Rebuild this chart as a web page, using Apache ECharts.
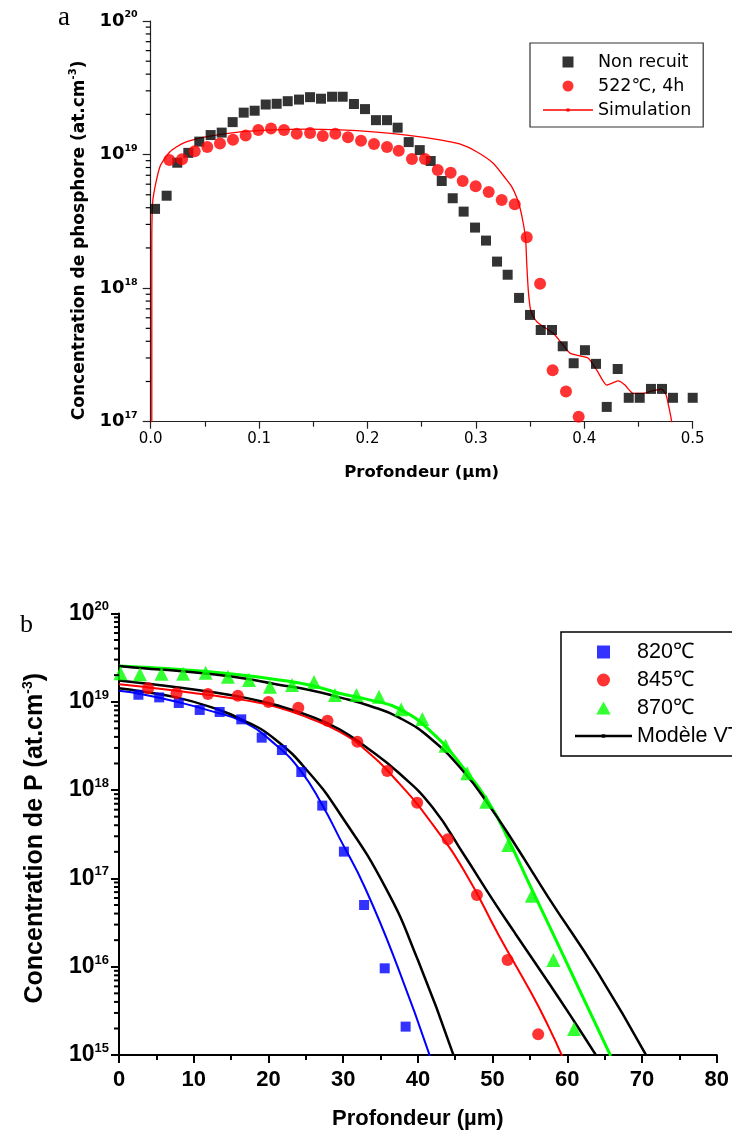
<!DOCTYPE html>
<html><head><meta charset="utf-8">
<script src="https://cdn.jsdelivr.net/npm/echarts@6/dist/echarts.min.js"></script>
<style>html,body{margin:0;padding:0;background:#fff}#c{width:732px;height:1139px}</style>
</head><body><div id="c"></div>
<script>
// ---------- Panel a data ----------
const nonRecuit = [[0.004,3.92e18],[0.0147,4.92e18],[0.0245,8.69e18],[0.0347,1.03e19],[0.0448,1.25e19],[0.0553,1.40e19],[0.0655,1.46e19],[0.0756,1.75e19],[0.0858,2.06e19],[0.0959,2.13e19],[0.1061,2.37e19],[0.1162,2.40e19],[0.1264,2.51e19],[0.1368,2.58e19],[0.1470,2.69e19],[0.1571,2.62e19],[0.1673,2.71e19],[0.1771,2.71e19],[0.1875,2.39e19],[0.1977,2.19e19],[0.2078,1.81e19],[0.2180,1.81e19],[0.2278,1.59e19],[0.2380,1.24e19],[0.2482,1.08e19],[0.2583,8.95e18],[0.2685,6.34e18],[0.2786,4.71e18],[0.2887,3.74e18],[0.2992,2.84e18],[0.3093,2.27e18],[0.3195,1.58e18],[0.3293,1.26e18],[0.3398,8.45e17],[0.3499,6.30e17],[0.3598,4.86e17],[0.3702,4.86e17],[0.3801,3.67e17],[0.3902,2.74e17],[0.4006,3.43e17],[0.4108,2.71e17],[0.4207,1.29e17],[0.4308,2.48e17],[0.4410,1.51e17],[0.4511,1.51e17],[0.4615,1.76e17],[0.4717,1.76e17],[0.4818,1.51e17],[0.5000,1.51e17]];
const recuit522 = [[0.0172,9.12e18],[0.0289,9.23e18],[0.0406,1.06e19],[0.0522,1.14e19],[0.0639,1.21e19],[0.0759,1.29e19],[0.0876,1.39e19],[0.0993,1.53e19],[0.1110,1.57e19],[0.1230,1.53e19],[0.1347,1.43e19],[0.1470,1.45e19],[0.1587,1.38e19],[0.1703,1.43e19],[0.1820,1.35e19],[0.1940,1.27e19],[0.2060,1.20e19],[0.2180,1.14e19],[0.2288,1.07e19],[0.2410,9.27e18],[0.2530,9.27e18],[0.2648,7.67e18],[0.2767,7.31e18],[0.2878,6.34e18],[0.2998,5.79e18],[0.3118,5.25e18],[0.3238,4.57e18],[0.3358,4.25e18],[0.3469,2.40e18],[0.3592,1.08e18],[0.3708,2.43e17],[0.3831,1.68e17],[0.3948,1.09e17]];
const simulation = [[0.001,1e16],[0.001,2.0e18],[0.002,4.57e18],[0.0085,8.11e18],[0.0178,1.05e19],[0.030,1.22e19],[0.052,1.36e19],[0.0826,1.48e19],[0.1134,1.53e19],[0.1440,1.55e19],[0.1747,1.53e19],[0.2054,1.48e19],[0.2362,1.40e19],[0.2669,1.29e19],[0.2850,1.20e19],[0.3007,1.05e19],[0.316,8.61e18],[0.3284,6.46e18],[0.3330,5.75e18],[0.3376,4.79e18],[0.3407,3.98e18],[0.3437,3.06e18],[0.3459,2.30e18],[0.3469,1.53e18],[0.3483,9.70e17],[0.3499,7.28e17],[0.3515,6.49e17],[0.3561,5.61e17],[0.3622,5.15e17],[0.3714,4.59e17],[0.3792,3.86e17],[0.3868,3.26e17],[0.3960,3.11e17],[0.4037,2.99e17],[0.4114,2.44e17],[0.4207,1.88e17],[0.4268,1.96e17],[0.4314,2.02e17],[0.4375,1.88e17],[0.4452,1.63e17],[0.4544,1.63e17],[0.4637,1.71e17],[0.4714,1.75e17],[0.4754,1.59e17],[0.4779,1.30e17],[0.4806,1.0e17],[0.4820,7.9e16]];

// ---------- Panel b data ----------
const pts820 = [[2.6,1.20e19],[5.38,1.12e19],[8.0,9.68e18],[10.8,8.07e18],[13.47,7.66e18],[16.36,6.32e18],[19.1,3.92e18],[21.8,2.84e18],[24.4,1.60e18],[27.2,6.67e17],[30.1,2.01e17],[32.8,5.0e16],[35.56,9.6e15],[38.36,2.1e15]];
const pts845 = [[3.9,1.42e19],[7.7,1.25e19],[11.9,1.22e19],[15.9,1.17e19],[20.0,9.93e18],[24.0,8.57e18],[27.9,6.11e18],[31.9,3.53e18],[35.9,1.64e18],[39.9,7.19e17],[44.0,2.77e17],[47.9,6.50e16],[52.0,1.19e16],[56.1,1.72e15]];
const pts870 = [[0.2,2.10e19],[2.8,2.05e19],[5.69,2.08e19],[8.58,2.08e19],[11.6,2.13e19],[14.58,1.92e19],[17.4,1.76e19],[20.2,1.48e19],[23.16,1.55e19],[26.1,1.67e19],[28.9,1.19e19],[31.78,1.19e19],[34.8,1.14e19],[37.77,8.22e18],[40.6,6.38e18],[43.7,3.18e18],[46.6,1.55e18],[49.15,7.40e17],[52.1,2.39e17],[55.25,6.38e16],[58.13,1.19e16],[60.9,1.98e15]];
const fit820 = [[0,1.33e19],[3.24,1.21e19],[7.7,1.0e19],[12.13,7.94e18],[16.6,5.94e18],[21.0,3.24e18],[24.4,1.62e18],[27.2,6.76e17],[29.5,2.88e17],[33.0,7.59e16],[37.47,9.12e15],[41.6,9.8e14]];
const fit845 = [[0,1.58e19],[3.24,1.48e19],[7.7,1.33e19],[12.1,1.19e19],[16.6,1.05e19],[21.0,8.79e18],[25.5,6.50e18],[29.5,4.58e18],[33.0,2.84e18],[37.5,1.19e18],[41.9,4.17e17],[46.4,1.14e17],[50.8,2.29e16],[55.2,5.0e15],[57.5,2.09e15],[59.3,9.8e14]];
const fit870 = [[0,2.54e19],[3.24,2.45e19],[7.7,2.33e19],[12.1,2.19e19],[16.6,2.0e19],[21.0,1.79e19],[25.5,1.55e19],[29.5,1.25e19],[33.5,1.05e19],[37.5,8.32e18],[41.9,4.47e18],[46.3,1.69e18],[49.8,6.49e17],[52.13,2.74e17],[55.0,8.32e16],[58.0,2.45e16],[61.0,7.08e15],[65.8,9.8e14]];
const model820 = [[0,1.42e19],[3.24,1.30e19],[7.7,1.12e19],[12.1,8.79e18],[16.6,6.21e18],[21.0,3.69e18],[25.5,1.55e18],[29.5,5.50e17],[35.6,8.07e16],[40.0,1.19e16],[44.8,9.8e14]];
const model845 = [[0,1.74e19],[3.24,1.62e19],[7.7,1.46e19],[12.1,1.30e19],[16.6,1.12e19],[21.0,9.18e18],[25.5,6.92e18],[29.5,4.88e18],[33.0,3.09e18],[37.5,1.55e18],[41.9,6.46e17],[46.3,1.78e17],[50.0,5.75e16],[53.0,2.40e16],[57.5,6.6e15],[60.8,2.5e15],[63.9,9.8e14]];
const model870 = [[0,2.54e19],[3.24,2.39e19],[7.7,2.24e19],[12.1,2.06e19],[16.6,1.84e19],[21.0,1.58e19],[25.5,1.36e19],[29.5,1.12e19],[33.5,9.0e18],[37.5,6.61e18],[41.9,3.72e18],[46.3,1.55e18],[49.5,6.76e17],[52.6,2.74e17],[57.5,6.03e16],[64.1,8.51e15],[70.6,9.8e14]];

// tick labels / axis texts
const xTitle = 'Profondeur (µm)';
const legendA = ['Non recuit', '522℃, 4h', 'Simulation'];
const legendB = ['820℃', '845℃', '870℃', 'Modèle VT'];

function minorVals(lo, hi, xAt) {
  const out = [];
  for (let n = lo; n < hi; n++) for (let k = 2; k <= 9; k++) out.push([xAt, k * Math.pow(10, n)]);
  return out;
}
function minorTick(len, w) {
  return function (params, api) {
    const p = api.coord([api.value(0), api.value(1)]);
    return { type: 'line', shape: { x1: p[0] - len, y1: p[1], x2: p[0], y2: p[1] }, style: { stroke: '#000', lineWidth: w } };
  };
}
function expLabel(v) { return '{b|10}{s|' + Math.round(Math.log10(v)) + '}'; }

const FA = 'DejaVu Sans';
const FB = 'Liberation Sans, Arial, sans-serif';
const SQUARE = 'path://M0,0L10,0L10,10L0,10Z';
const TRIANGLE = 'path://M5,0L10,9L0,9Z';

function fitLine(name, data, color, width) {
  return { name: name, type: 'line', xAxisIndex: 1, yAxisIndex: 1, data: data, showSymbol: false, symbol: 'rect', symbolSize: 3,
    smooth: 0.5, color: color, lineStyle: { width: width, color: color }, z: 2 };
}
function scatter(name, data, symbol, size, color, xi) {
  return { name: name, type: 'scatter', xAxisIndex: xi, yAxisIndex: xi, data: data, symbol: symbol, symbolSize: size,
    itemStyle: { color: color }, z: 3 };
}

const chart = echarts.init(document.getElementById('c'), null, { renderer: 'canvas' });
chart.setOption({
  animation: false,
  backgroundColor: '#fff',
  grid: [
    { left: 150.7, top: 21, width: 542, height: 400.7 },
    { left: 119, top: 613.4, width: 600, height: 441.7 }
  ],
  xAxis: [
    { gridIndex: 0, type: 'value', min: 0, max: 0.5, interval: 0.1,
      axisLine: { show: true, lineStyle: { color: '#222', width: 1.2 } },
      axisTick: { show: true, length: 7, lineStyle: { color: '#222', width: 1.2 } },
      minorTick: { show: true, splitNumber: 2, length: 5, lineStyle: { color: '#222', width: 1.2 } },
      splitLine: { show: false },
      axisLabel: { margin: 10, fontFamily: FA, fontSize: 15, color: '#000', formatter: v => v.toFixed(1) },
      name: xTitle, nameLocation: 'middle', nameGap: 43,
      nameTextStyle: { fontFamily: FA, fontSize: 16.5, fontWeight: 'bold', color: '#000' } },
    { gridIndex: 1, type: 'value', min: 0, max: 80, interval: 10,
      axisLine: { show: true, lineStyle: { color: '#000', width: 2 } },
      axisTick: { show: true, length: 8, lineStyle: { color: '#000', width: 2 } },
      minorTick: { show: true, splitNumber: 2, length: 5, lineStyle: { color: '#000', width: 2 } },
      splitLine: { show: false },
      axisLabel: { margin: 14, fontFamily: FB, fontSize: 22, fontWeight: 'bold', color: '#000' },
      name: xTitle, nameLocation: 'middle', nameGap: 53,
      nameTextStyle: { fontFamily: FB, fontSize: 22, fontWeight: 'bold', color: '#000' } }
  ],
  yAxis: [
    { gridIndex: 0, type: 'log', logBase: 10, min: 1e17, max: 1e20, splitNumber: 3,
      axisLine: { show: true, lineStyle: { color: '#222', width: 1.2 } },
      axisTick: { show: true, length: 8, lineStyle: { color: '#222', width: 1.2 } },
      splitLine: { show: false },
      axisLabel: { margin: 13, formatter: expLabel,
        rich: { b: { fontFamily: FA, fontSize: 18, fontWeight: 'bold', color: '#000', lineHeight: 22 },
                s: { fontFamily: FA, fontSize: 9.5, fontWeight: 'bold', color: '#000', verticalAlign: 'top', lineHeight: 10 } } },
      name: '{b|Concentration de phosphore (at.cm}{s|-3}{b|)}', nameLocation: 'middle', nameGap: 60, nameRotate: 90,
      nameTextStyle: { padding: [0, 38, 0, 0],
        rich: { b: { fontFamily: FA, fontSize: 17, fontWeight: 'bold', color: '#000', lineHeight: 22 },
                s: { fontFamily: FA, fontSize: 10, fontWeight: 'bold', color: '#000', verticalAlign: 'top', lineHeight: 10 } } } },
    { gridIndex: 1, type: 'log', logBase: 10, min: 1e15, max: 1e20, splitNumber: 5,
      axisLine: { show: true, lineStyle: { color: '#000', width: 2 } },
      axisTick: { show: true, length: 8, lineStyle: { color: '#000', width: 2 } },
      splitLine: { show: false },
      axisLabel: { margin: 10, formatter: expLabel,
        rich: { b: { fontFamily: FB, fontSize: 23, fontWeight: 'bold', color: '#000', lineHeight: 26 },
                s: { fontFamily: FB, fontSize: 13, fontWeight: 'bold', color: '#000', verticalAlign: 'top', lineHeight: 12 } } },
      name: '{b|Concentration de P (at.cm}{s|-3}{b|)}', nameLocation: 'middle', nameGap: 70, nameRotate: 90,
      nameTextStyle: { padding: [0, 8, 0, 0],
        rich: { b: { fontFamily: FB, fontSize: 25, fontWeight: 'bold', color: '#000', lineHeight: 28 },
                s: { fontFamily: FB, fontSize: 14, fontWeight: 'bold', color: '#000', verticalAlign: 'top', lineHeight: 13 } } } }
  ],
  legend: [
    { orient: 'vertical', left: 530, top: 43, padding: [9, 12, 7, 13], itemGap: 4,
      itemWidth: 50, itemHeight: 11, borderColor: '#333', borderWidth: 1.2, borderRadius: 0,
      symbolKeepAspect: true, itemStyle: { borderWidth: 0 },
      textStyle: { fontFamily: FA, fontSize: 17.5, color: '#000', lineHeight: 20 },
      data: [ { name: legendA[0], icon: SQUARE }, { name: legendA[1], icon: 'circle' },
        { name: legendA[2], icon: 'path://M0,0.85L50,0.85L50,2.15L0,2.15Z M23.5,0L26.5,0L26.5,3L23.5,3Z' } ] },
    { orient: 'vertical', left: 561, top: 632, padding: [8, 10, 8, 14], itemGap: 4,
      itemWidth: 57, itemHeight: 13, borderColor: '#000', borderWidth: 1.5, borderRadius: 0,
      symbolKeepAspect: true, itemStyle: { borderWidth: 0 },
      textStyle: { fontFamily: FB, fontSize: 21.5, color: '#000', lineHeight: 24 },
      data: [ { name: legendB[0], icon: SQUARE }, { name: legendB[1], icon: 'circle' }, { name: legendB[2], icon: TRIANGLE },
        { name: legendB[3], icon: 'path://M0,0.5L57,0.5L57,3L0,3Z M26.75,0L30.25,0L30.25,3.5L26.75,3.5Z' } ] }
  ],
  graphic: [
    { type: 'text', left: 58, top: 4, style: { text: 'a', font: '27px "Liberation Serif", serif', fill: '#000' } },
    { type: 'text', left: 20, top: 612, style: { text: 'b', font: '26px "Liberation Serif", serif', fill: '#000' } }
  ],
  series: [
    { type: 'custom', xAxisIndex: 0, yAxisIndex: 0, silent: true, renderItem: minorTick(5, 1.2), data: minorVals(17, 20, 0), z: 5 },
    { type: 'custom', xAxisIndex: 1, yAxisIndex: 1, silent: true, renderItem: minorTick(5, 2), data: minorVals(15, 20, 0), z: 5 },
    { name: 'Simulation', type: 'line', xAxisIndex: 0, yAxisIndex: 0, data: simulation, showSymbol: false, symbol: 'rect', symbolSize: 3,
      smooth: 0.2, color: '#ff0000', lineStyle: { width: 1.3, color: '#ff0000' }, z: 2 },
    scatter('Non recuit', nonRecuit, 'rect', 10, '#000', 0),
    scatter('522℃, 4h', recuit522, 'circle', 12, '#ff0000', 0),

    fitLine('fit820', fit820, '#0000ff', 2),
    fitLine('fit845', fit845, '#ff0000', 2),
    fitLine('fit870', fit870, '#00ff00', 3),
    fitLine('Modèle VT', model820, '#000', 2.5),
    fitLine('Modèle VT', model845, '#000', 2.5),
    fitLine('Modèle VT', model870, '#000', 2.5),
    scatter('820℃', pts820, 'rect', 10, '#0000ff', 1),
    scatter('845℃', pts845, 'circle', 12, '#ff0000', 1),
    scatter('870℃', pts870, 'triangle', 14, '#00ff00', 1)
  ]
});
</script>
</body></html>
